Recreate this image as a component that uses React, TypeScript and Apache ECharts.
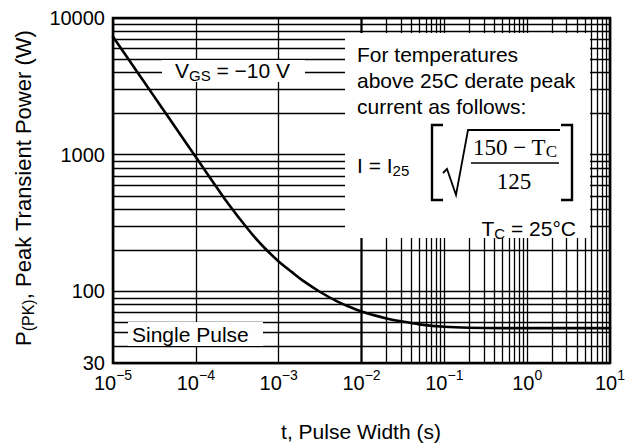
import React, { useEffect, useRef } from "react";
import * as echarts from "echarts";

// ---- data ----
const pulseWidth = [
  1e-5, 2e-5, 3e-5, 5e-5, 1e-4, 2e-4, 2.5e-4, 3.3e-4, 5e-4, 7.1e-4, 1e-3, 1.46e-3,
  2e-3, 3.1e-3, 5e-3, 7e-3, 1e-2, 2e-2, 3e-2, 5e-2, 0.1, 0.2, 0.5, 1, 3, 10,
];
const peakPower = [
  7300, 3960, 2775, 1770, 962, 522, 432, 347, 254, 202, 166, 138,
  119, 100, 85, 77.6, 71.3, 63.5, 60.5, 57.5, 55.2, 54.3, 54, 54, 54, 54,
];
const xMin = 1e-5;
const xMax = 10;
const yMin = 30;
const yMax = 10000;
const xDecades = [1e-5, 1e-4, 1e-3, 1e-2, 1e-1, 1];
const yDecades = [10, 100, 1000];
const gridMultipliers = [2, 3, 4, 5, 6, 7, 8, 9];

const SANS = "'Liberation Sans', Arial, sans-serif";
const SERIF = "'Liberation Serif', 'Times New Roman', serif";

export default function App() {
  const ref = useRef<HTMLDivElement>(null);
  useEffect(() => {
    if (!ref.current) return;
    const chart = echarts.init(ref.current, null, { renderer: "svg" });

    const xMinor: number[] = [];
    xDecades.forEach((d) => gridMultipliers.forEach((m) => xMinor.push(d * m)));
    const yMinor: number[] = [];
    yDecades.forEach((d) =>
      gridMultipliers.forEach((m) => {
        const v = d * m;
        if (v > yMin && v < yMax) yMinor.push(v);
      })
    );
    const minorLines = [
      ...xMinor.map((v) => ({ xAxis: v })),
      ...yMinor.map((v) => ({ yAxis: v })),
    ];

    const curve = pulseWidth.map((t, i) => [t, peakPower[i]]);

    const black = "#000";
    const gridW = 1.3;
    const rect = (x: number, y: number, w: number, h: number) => ({
      type: "rect",
      z: 10,
      silent: true,
      shape: { x, y, width: w, height: h },
      style: { fill: "#fff", stroke: null },
    });
    const subRich = (size: number, subSize: number, family: string, lh: number) => ({
      m: { fontSize: size, fontFamily: family, fill: black, lineHeight: lh },
      s: {
        fontSize: subSize,
        fontFamily: family,
        fill: black,
        lineHeight: subSize,
        verticalAlign: "bottom",
      },
    });

    chart.setOption({
      animation: false,
      backgroundColor: "#fff",
      grid: {
        left: 113,
        right: 28,
        top: 18,
        bottom: 82,
        show: true,
        borderColor: black,
        borderWidth: 2.6,
        z: 30,
      },
      xAxis: {
        type: "log",
        logBase: 10,
        min: xMin,
        max: xMax,
        splitNumber: 6,
        axisLine: { show: false },
        axisTick: { show: false },
        splitLine: { show: true, lineStyle: { color: black, width: gridW } },
        axisLabel: {
          margin: 5,
          color: black,
          formatter: (v: number) => {
            const e = Math.round(Math.log10(v));
            return `{b|10}{s|${e < 0 ? "\u2212" + -e : e}}`;
          },
          rich: {
            b: { fontSize: 20, fontFamily: SANS, color: black, lineHeight: 30 },
            s: {
              fontSize: 14,
              fontFamily: SANS,
              color: black,
              lineHeight: 14,
              verticalAlign: "top",
            },
          },
        },
      },
      yAxis: {
        type: "log",
        logBase: 10,
        min: yMin,
        max: yMax,
        splitNumber: 3,
        axisLine: { show: false },
        axisTick: { show: false },
        splitLine: { show: true, lineStyle: { color: black, width: gridW } },
        axisLabel: {
          margin: 8,
          color: black,
          fontSize: 20,
          fontFamily: SANS,
          formatter: (v: number) => String(Math.round(v)),
        },
      },
      series: [
        {
          type: "line",
          data: [],
          z: 2,
          silent: true,
          markLine: {
            z: 2,
            silent: true,
            symbol: ["none", "none"],
            label: { show: false },
            lineStyle: { color: black, width: gridW, type: "solid" },
            emphasis: { disabled: true },
            data: minorLines,
          },
        },
        {
          type: "line",
          data: curve,
          z: 20,
          showSymbol: false,
          symbol: "none",
          smooth: 0.25,
          lineStyle: { color: black, width: 2.6, join: "round", cap: "round" },
          silent: true,
        },
      ],
      graphic: [
        rect(345, 33, 245, 205),
        rect(162, 60, 143, 22),
        rect(128, 322, 135, 24),
        {
          type: "text",
          z: 11,
          x: 175,
          y: 70,
          style: {
            text: "{m|V}{s|GS}{m| = \u221210 V}",
            align: "left",
            verticalAlign: "middle",
            fill: black,
            rich: subRich(21, 15, SANS, 26),
          },
        },
        {
          type: "text",
          z: 11,
          x: 132,
          y: 334,
          style: {
            text: "Single Pulse",
            align: "left",
            verticalAlign: "middle",
            fill: black,
            fontSize: 21,
            fontFamily: SANS,
          },
        },
        {
          type: "text",
          z: 11,
          x: 357,
          y: 54,
          style: {
            text: "For temperatures",
            align: "left",
            verticalAlign: "middle",
            fill: black,
            fontSize: 21,
            fontFamily: SANS,
          },
        },
        {
          type: "text",
          z: 11,
          x: 357,
          y: 80,
          style: {
            text: "above 25C derate peak",
            align: "left",
            verticalAlign: "middle",
            fill: black,
            fontSize: 21,
            fontFamily: SANS,
          },
        },
        {
          type: "text",
          z: 11,
          x: 357,
          y: 106,
          style: {
            text: "current as follows:",
            align: "left",
            verticalAlign: "middle",
            fill: black,
            fontSize: 21,
            fontFamily: SANS,
          },
        },
        {
          type: "text",
          z: 11,
          x: 357,
          y: 165,
          style: {
            text: "{m|I = I}{s|25}",
            align: "left",
            verticalAlign: "middle",
            fill: black,
            rich: subRich(21, 15, SANS, 26),
          },
        },
        {
          type: "polyline",
          z: 11,
          shape: { points: [[443, 125], [432, 125], [432, 200], [443, 200]] },
          style: { stroke: black, lineWidth: 2.4, fill: null },
        },
        {
          type: "polyline",
          z: 11,
          shape: { points: [[561, 125], [572, 125], [572, 200], [561, 200]] },
          style: { stroke: black, lineWidth: 2.4, fill: null },
        },
        {
          type: "polyline",
          z: 11,
          shape: {
            points: [[443, 173], [447, 169], [456, 195], [468, 130], [560, 130]],
          },
          style: { stroke: black, lineWidth: 1.8, fill: null },
        },
        {
          type: "line",
          z: 11,
          shape: { x1: 471, y1: 163, x2: 559, y2: 163 },
          style: { stroke: black, lineWidth: 1.3 },
        },
        {
          type: "text",
          z: 11,
          x: 515,
          y: 147,
          style: {
            text: "{m|150 \u2212 T}{s|C}",
            align: "center",
            verticalAlign: "middle",
            fill: black,
            rich: subRich(23, 17, SERIF, 26),
          },
        },
        {
          type: "text",
          z: 11,
          x: 514,
          y: 181,
          style: {
            text: "125",
            align: "center",
            verticalAlign: "middle",
            fill: black,
            fontSize: 23,
            fontFamily: SERIF,
          },
        },
        {
          type: "text",
          z: 11,
          x: 576,
          y: 228,
          style: {
            text: "{m|T}{s|C}{m| = 25\u00B0C}",
            align: "right",
            verticalAlign: "middle",
            fill: black,
            rich: subRich(21, 15, SANS, 26),
          },
        },
        {
          type: "text",
          z: 11,
          x: 23,
          y: 188,
          rotation: Math.PI / 2,
          style: {
            text: "{m|P}{s|(PK)}{m|, Peak Transient Power (W)}",
            align: "center",
            verticalAlign: "middle",
            fill: black,
            rich: subRich(22, 16, SANS, 27),
          },
        },
        {
          type: "text",
          z: 11,
          x: 361,
          y: 431,
          style: {
            text: "t, Pulse Width (s)",
            align: "center",
            verticalAlign: "middle",
            fill: black,
            fontSize: 21,
            fontFamily: SANS,
          },
        },
      ],
    });
    return () => chart.dispose();
  }, []);
  return (
    <div
      ref={ref}
      style={{ position: "fixed", left: 0, top: 0, width: 638, height: 445 }}
    />
  );
}
